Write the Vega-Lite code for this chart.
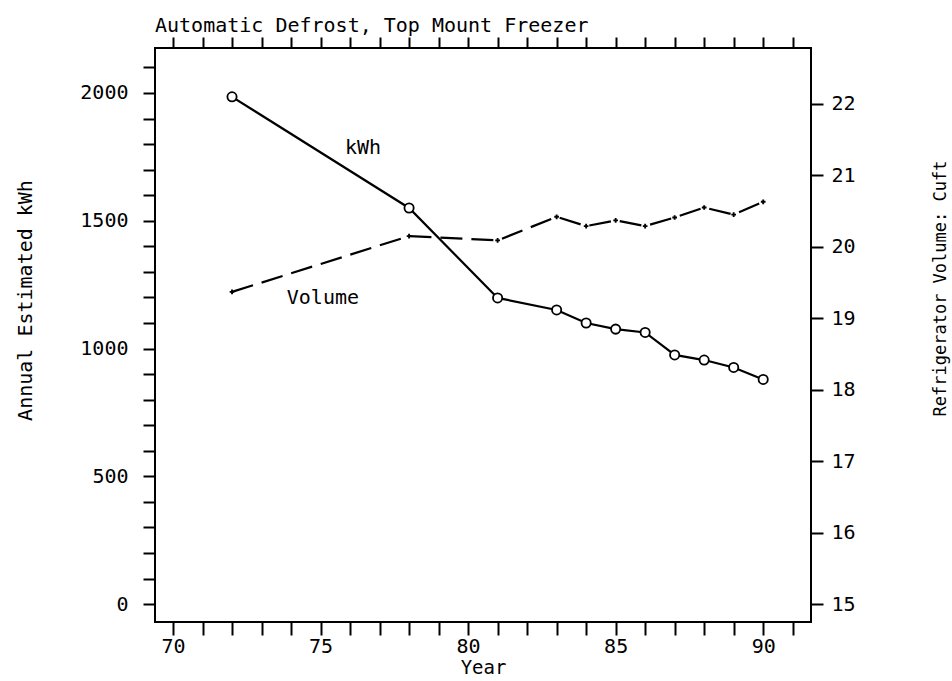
{
  "$schema": "https://vega.github.io/schema/vega-lite/v6.json",
  "autosize": "none",
  "padding": {"left": 155, "top": 48, "right": 141, "bottom": 59},
  "width": 656,
  "height": 574,
  "background": "white",
  "title": {
    "text": "Automatic Defrost, Top Mount Freezer",
    "anchor": "start",
    "frame": "group",
    "font": "DejaVu Sans Mono",
    "fontSize": 20,
    "fontWeight": "normal",
    "color": "black",
    "baseline": "alphabetic",
    "offset": -16
  },
  "config": {
    "font": "DejaVu Sans Mono",
    "view": {"stroke": "black", "strokeWidth": 2},
    "axis": {
      "domain": false,
      "grid": false,
      "tickColor": "black",
      "tickWidth": 2,
      "labelColor": "black",
      "labelFont": "DejaVu Sans Mono",
      "labelFontSize": 20,
      "titleColor": "black",
      "titleFont": "DejaVu Sans Mono",
      "titleFontSize": 20,
      "titleFontWeight": "normal",
      "labelOverlap": false,
      "labelBound": false
    }
  },
  "data": {
    "values": [
      {"year": 72, "kWh": 1985, "volume": 19.37},
      {"year": 78, "kWh": 1550, "volume": 20.15},
      {"year": 81, "kWh": 1198, "volume": 20.09},
      {"year": 83, "kWh": 1151, "volume": 20.42},
      {"year": 84, "kWh": 1100, "volume": 20.29},
      {"year": 85, "kWh": 1076, "volume": 20.37},
      {"year": 86, "kWh": 1063, "volume": 20.29},
      {"year": 87, "kWh": 975, "volume": 20.41},
      {"year": 88, "kWh": 955, "volume": 20.55},
      {"year": 89, "kWh": 926, "volume": 20.45},
      {"year": 90, "kWh": 879, "volume": 20.63}
    ]
  },
  "layer": [
    {
      "encoding": {
        "x": {
          "field": "year",
          "type": "quantitative",
          "scale": {"domain": [69.39, 91.62], "nice": false, "zero": false},
          "axis": {
            "orient": "bottom",
            "values": [70, 71, 72, 73, 74, 75, 76, 77, 78, 79, 80, 81, 82, 83, 84, 85, 86, 87, 88, 89, 90, 91],
            "format": "d",
            "labelExpr": "datum.value % 5 === 0 ? datum.label : ''",
            "tickSize": 13,
            "labelPadding": 1,
            "title": "Year",
            "titleFontSize": 19,
            "titlePadding": 2
          }
        },
        "y": {
          "field": "kWh",
          "type": "quantitative",
          "scale": {"domain": [-70, 2176], "nice": false, "zero": false},
          "axis": {
            "orient": "left",
            "values": [0, 100, 200, 300, 400, 500, 600, 700, 800, 900, 1000, 1100, 1200, 1300, 1400, 1500, 1600, 1700, 1800, 1900, 2000, 2100],
            "format": "d",
            "labelExpr": "datum.value % 500 === 0 ? datum.label : ''",
            "tickSize": 12,
            "labelPadding": 15,
            "title": "Annual Estimated kWh",
            "titleAngle": -90,
            "titleAlign": "center",
            "titleBaseline": "middle",
            "titleX": -130,
            "titleY": 252
          }
        }
      },
      "layer": [
        {"mark": {"type": "line", "color": "black", "strokeWidth": 2.2}},
        {"mark": {"type": "point", "shape": "circle", "size": 85, "filled": true, "fill": "white", "stroke": "black", "strokeWidth": 1.8, "opacity": 1}},
        {
          "data": {"values": [{"year": 76.44, "kWh": 1785, "label": "kWh"}]},
          "mark": {"type": "text", "fontSize": 20, "color": "black", "align": "center", "baseline": "middle"},
          "encoding": {"text": {"field": "label"}}
        }
      ]
    },
    {
      "encoding": {
        "x": {
          "field": "year",
          "type": "quantitative",
          "scale": {"domain": [69.39, 91.62], "nice": false, "zero": false},
          "axis": {
            "orient": "top",
            "values": [70, 71, 72, 73, 74, 75, 76, 77, 78, 79, 80, 81, 82, 83, 84, 85, 86, 87, 88, 89, 90, 91],
            "labels": false,
            "tickSize": 11,
            "title": null
          }
        },
        "y": {
          "field": "volume",
          "type": "quantitative",
          "scale": {"domain": [14.755, 22.78], "nice": false, "zero": false},
          "axis": {
            "orient": "right",
            "values": [15, 15.5, 16, 16.5, 17, 17.5, 18, 18.5, 19, 19.5, 20, 20.5, 21, 21.5, 22, 22.5],
            "format": "d",
            "labelExpr": "datum.value % 1 === 0 ? datum.label : ''",
            "tickSize": 12,
            "labelPadding": 8,
            "title": "Refrigerator Volume: Cuft",
            "titleFontSize": 17,
            "titleAngle": -90,
            "titleAlign": "center",
            "titleBaseline": "middle",
            "titleX": 129,
            "titleY": 240
          }
        }
      },
      "layer": [
        {"mark": {"type": "line", "color": "black", "strokeWidth": 2.2, "strokeDash": [22, 9]}},
        {"mark": {"type": "point", "shape": "cross", "size": 22, "filled": true, "color": "black", "opacity": 1}},
        {
          "data": {"values": [{"year": 75.08, "volume": 19.29, "label": "Volume"}]},
          "mark": {"type": "text", "fontSize": 20, "color": "black", "align": "center", "baseline": "middle"},
          "encoding": {"text": {"field": "label"}}
        }
      ]
    }
  ],
  "resolve": {"scale": {"x": "independent", "y": "independent"}}
}
